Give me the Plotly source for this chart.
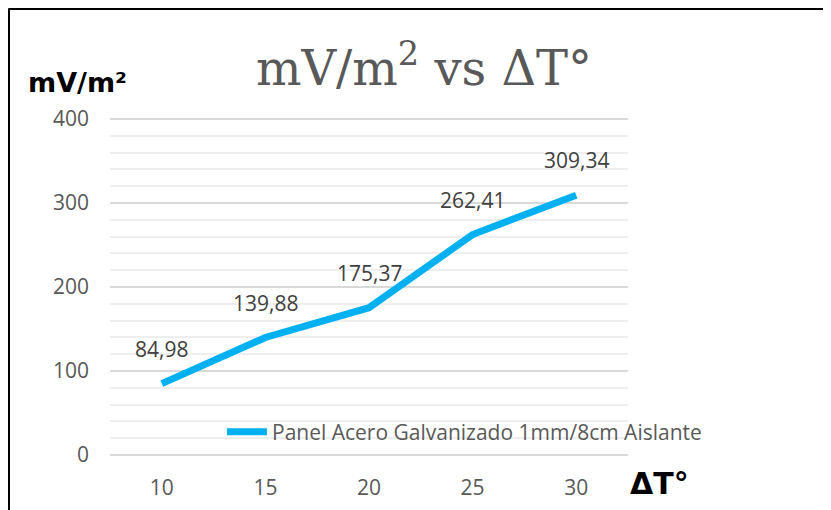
import plotly.graph_objects as go

# data
delta_t = ["10", "15", "20", "25", "30"]
mv_m2 = [84.98, 139.88, 175.37, 262.41, 309.34]
serie = "Panel Acero Galvanizado 1mm/8cm Aislante"
y_ticks = [0, 100, 200, 300, 400]

labels = [f"{v:.2f}".replace(".", ",") for v in mv_m2]

# the page keeps its 8px body margin, so the figure is 8px smaller and
# everything below is given in page pixels and shifted by OFF
OFF = 8
W, H = 831 - OFF, 510 - OFF
# plot area in page pixels (a little padding so the 0 and 400 gridlines get drawn)
L, R, T, B = 110, 628, 116, 458


def px(x):
    return (x - L) / (R - L)


def py(y):
    return (B - y) / (B - T)


fig = go.Figure()
fig.add_trace(go.Scatter(
    x=delta_t, y=mv_m2, mode="lines", name=serie,
    line=dict(color="#00B0F0", width=7),
))

# data labels above each point (category index as x)
for i, (y, t) in enumerate(zip(mv_m2, labels)):
    fig.add_annotation(x=i, y=y, text=t, showarrow=False, yshift=35,
                       font=dict(family="Open Sans", size=21, color="#404040"))

fig.update_layout(
    width=W, height=H,
    margin=dict(l=L - OFF, r=831 - R, t=T - OFF, b=510 - B),
    paper_bgcolor="white", plot_bgcolor="white",
    title=dict(text="mV/m<sup>2</sup> vs ΔT°", x=px(424), xref="paper", xanchor="center",
               y=1 - (68 - OFF) / H, yref="container", yanchor="middle",
               font=dict(family="DejaVu Serif", size=48, color="#595959")),
    legend=dict(x=px(222), y=py(432), xanchor="left", yanchor="middle",
                bgcolor="rgba(0,0,0,0)", font=dict(family="Open Sans", size=21, color="#595959"),
                itemwidth=40),
    showlegend=True,
)

fig.update_xaxes(type="category", range=[-0.5, 4.5], showgrid=False, zeroline=False,
                 showline=False, ticks="", ticklabelstandoff=15, automargin=False,
                 tickfont=dict(family="Open Sans", size=21, color="#595959"))
fig.update_yaxes(range=[-3.57, 403.57], tickvals=y_ticks, showgrid=True, gridcolor="#D9D9D9", gridwidth=1.5,
                 zeroline=False, showline=False, ticks="", ticklabelstandoff=20, automargin=False,
                 minor=dict(dtick=20, showgrid=True, gridcolor="#EEEEEE", gridwidth=1.5),
                 tickfont=dict(family="Open Sans", size=21, color="#595959"))

# axis titles placed like the original
fig.add_annotation(text="mV/m²", xref="paper", yref="paper", x=px(26), y=py(82),
                   xanchor="left", yanchor="middle", showarrow=False,
                   font=dict(family="DejaVu Sans", size=27, color="black", weight="bold"))
fig.add_annotation(text="ΔT°", xref="paper", yref="paper", x=px(628), y=py(483),
                   xanchor="left", yanchor="middle", showarrow=False,
                   font=dict(family="DejaVu Sans", size=30, color="black", weight="bold"))

# black frame (left and top edges), drawn at the very edge of the figure
fig.add_shape(type="line", xref="paper", yref="paper", x0=px(OFF + 0.5), x1=px(OFF + 0.5),
              y0=py(520), y1=py(OFF + 0.5), line=dict(color="black", width=3))
fig.add_shape(type="line", xref="paper", yref="paper", x0=px(OFF + 0.5), x1=px(840),
              y0=py(OFF + 0.5), y1=py(OFF + 0.5), line=dict(color="black", width=3))

fig.write_html("out.html", config={"displayModeBar": False})
